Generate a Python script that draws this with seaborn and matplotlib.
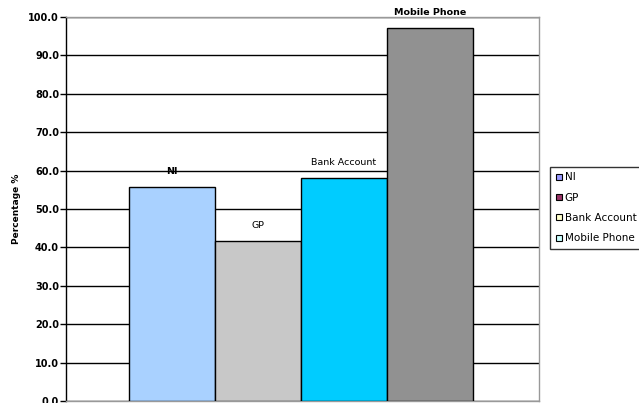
import matplotlib
matplotlib.use("Agg")
import matplotlib.pyplot as plt
import seaborn as sns
import pandas as pd
from matplotlib.lines import Line2D

categories = ["NI", "GP", "Bank Account", "Mobile Phone"]
values = [55.6, 41.7, 58.0, 97.1]
bar_colors = ["#A9D1FF", "#C8C8C8", "#00CCFF", "#919191"]
legend_colors = ["#9999FF", "#993366", "#FFFFCC", "#CCFFFF"]
yticks = [0, 10, 20, 30, 40, 50, 60, 70, 80, 90, 100]

sns.set_theme(style="white")
plt.rcParams["font.family"] = ["DejaVu Sans"]
plt.rcParams["text.color"] = "black"
plt.rcParams["axes.labelcolor"] = "black"
plt.rcParams["ytick.color"] = "black"

df = pd.DataFrame({"cat": categories, "val": values})

fig = plt.figure(figsize=(6.39, 4.03), dpi=100)
ax = fig.add_axes([66/639, 2/403, (539-66)/639, (401-17)/403])

sns.barplot(data=df, x="cat", y="val", hue="cat", palette=bar_colors,
            saturation=1, width=1.0, edgecolor="black", linewidth=1.0,
            legend=False, ax=ax, zorder=3)

ax.set_ylim(0, 100)
ax.set_xlim(-1.23, 4.27)
ax.set_yticks(yticks)
ax.set_yticklabels([f"{v:.1f}" for v in yticks], fontsize=7, fontweight="bold",
                   color="black")
ax.set_xticks([])
ax.set_xlabel("")
ax.set_ylabel("Percentage %", fontsize=6.5, fontweight="bold", labelpad=5,
              color="black")
ax.yaxis.grid(True, color="black", linewidth=1.0, zorder=0)
ax.set_axisbelow(True)
ax.tick_params(axis="y", length=4, width=1, color="black", left=True, pad=1)

for s in ["top", "right", "bottom"]:
    ax.spines[s].set_color("#999999")
    ax.spines[s].set_linewidth(1.0)
ax.spines["left"].set_color("black")
ax.spines["left"].set_linewidth(1.0)

for i, (c, v) in enumerate(zip(categories, values)):
    ax.annotate(c, (i, v), xytext=(0, 8), textcoords="offset points",
                ha="center", va="bottom", fontsize=6.8, color="black",
                fontweight="bold" if c in ("NI", "Mobile Phone") else "normal",
                annotation_clip=False)

handles = [Line2D([0], [0], marker="s", linestyle="none", markersize=4.5,
                  markerfacecolor=col, markeredgecolor="black", markeredgewidth=0.8)
           for col in legend_colors]
leg = fig.legend(handles, categories, loc="upper left",
                 bbox_to_anchor=(550/639, 1 - 167/403), fontsize=7.5,
                 frameon=True, fancybox=False, edgecolor="black",
                 handletextpad=0.1, handlelength=0.8, labelspacing=1.0,
                 borderpad=0.5, borderaxespad=0)
leg.get_frame().set_linewidth(1.0)
for t in leg.get_texts():
    t.set_color("black")

fig.savefig("out.png", dpi=100)
